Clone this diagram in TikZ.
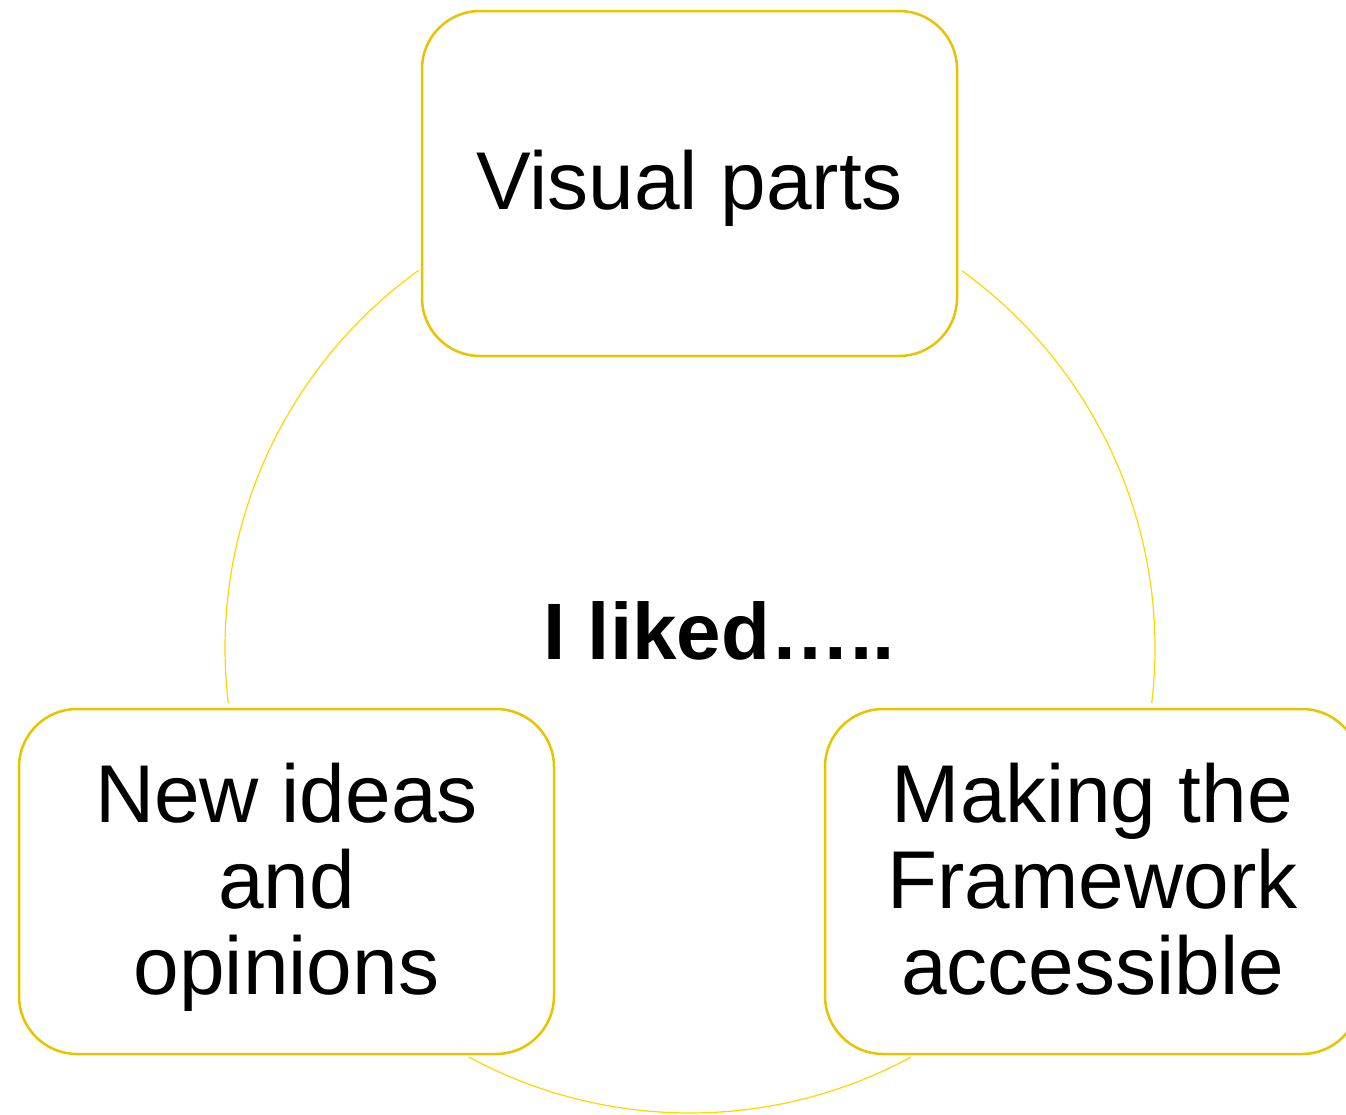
\documentclass[tikz,border=0pt]{standalone}
\usepackage{fontspec}
\setmainfont{Liberation Sans}
\definecolor{boxline}{RGB}{230,196,0}
\definecolor{ringline}{RGB}{255,214,0}
\begin{document}
\begin{tikzpicture}[x=1pt,y=1pt,
  itembox/.style={draw=boxline, line width=2.5pt, rounded corners=58pt,
    minimum width=535pt, minimum height=345pt, inner sep=0pt, fill=white},
  itemtext/.style={align=center, font=\fontsize{82}{86}\selectfont, inner sep=0pt},
  ring/.style={draw=ringline, line width=1.2pt}]
\useasboundingbox (0,0) rectangle (1346,-1114);
\clip (0,0) rectangle (1346,-1114);
\coordinate (c) at (690,-648);
% ring arcs between the boxes
\draw[ring] (c) ++(125.7:465) arc[start angle=125.7, end angle=186.8, radius=465];
\draw[ring] (c) ++(241.6:465) arc[start angle=241.6, end angle=298.4, radius=465];
\draw[ring] (c) ++(-6.8:465) arc[start angle=-6.8, end angle=54.2, radius=465];
% boxes
\node[itembox] (top) at (689.5,-183.5) {};
\node[itembox] (left) at (286.5,-881.5) {};
\node[itembox] (right) at (1092.5,-881.5) {};
% texts
\node[itemtext, yshift=-8.3pt] (ttop) at (top.center) {\strut Visual parts};
\node[itemtext, yshift=-9.3pt] (tleft) at (left.center) {\strut New ideas\\\strut and\\\strut opinions};
\node[itemtext, yshift=-9.3pt] (tright) at (right.center) {\strut Making the\\\strut Framework\\\strut accessible};
\node[font=\fontsize{80}{86}\selectfont\bfseries, inner sep=0pt] (center) at (719,-631) {I liked…..};
\end{tikzpicture}
\end{document}
